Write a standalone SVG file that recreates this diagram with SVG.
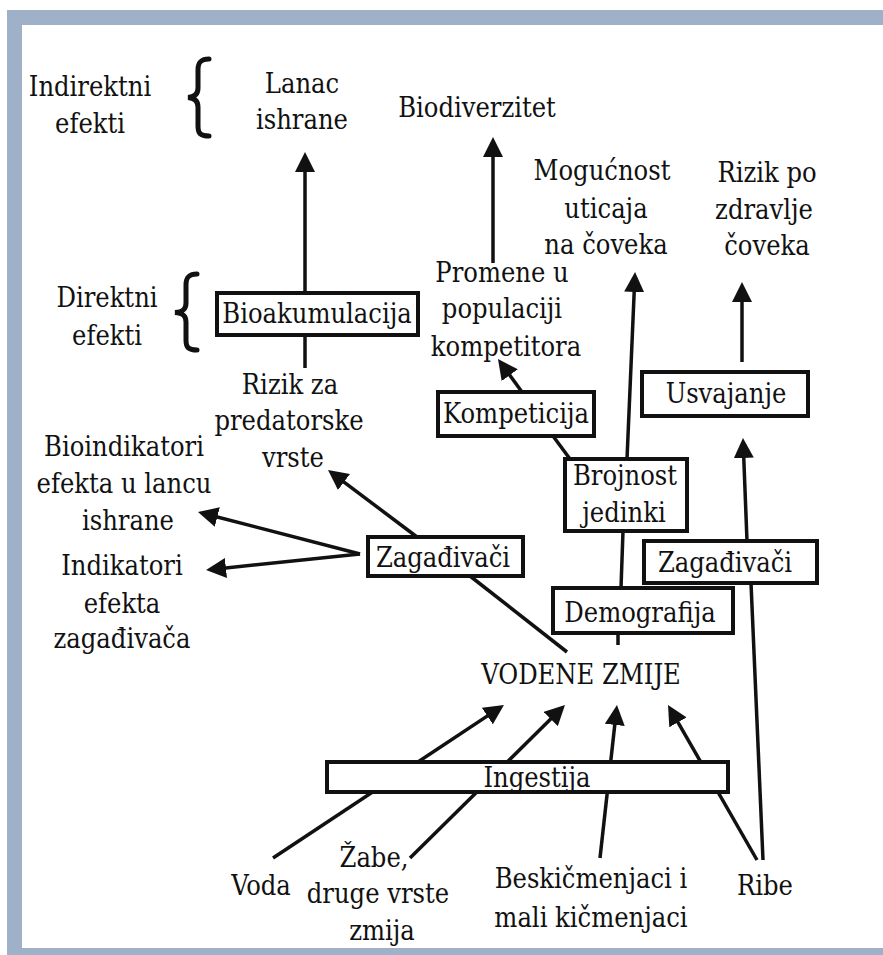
<svg xmlns="http://www.w3.org/2000/svg" width="883" height="955" viewBox="0 0 883 955">
<defs>
<marker id="ah" viewBox="0 0 20 20" markerWidth="20" markerHeight="20" refX="12" refY="10" orient="auto" markerUnits="userSpaceOnUse">
<path d="M0,0 L20,10 L0,20 z" fill="#111"/>
</marker>
</defs>
<style>
text{font-family:"DejaVu Serif Condensed","DejaVu Serif",serif;font-stretch:condensed;font-size:27px;fill:#111;text-anchor:middle}
.box{fill:#fff;stroke:#111;stroke-width:4}
.ln{stroke:#111;stroke-width:3.5;fill:none}
.ar{stroke:#111;stroke-width:3.5;fill:none;marker-end:url(#ah)}
.brace{stroke:#111;stroke-width:5;fill:none;stroke-linecap:round}
.frame{fill:#9fb1c9}
</style>
<rect x="0" y="0" width="883" height="955" fill="#fff"/>
<g id="frame">
<rect class="frame" x="7" y="10" width="876" height="15"/>
<rect class="frame" x="7" y="10" width="15" height="945"/>
<rect class="frame" x="7" y="948" width="876" height="7"/>
</g>
<g id="connectors">
<line class="ar" x1="305" y1="293" x2="305" y2="160"/>
<line class="ln" x1="305" y1="335" x2="305" y2="368"/>
<line class="ar" x1="493" y1="263" x2="493" y2="145"/>
<line class="ar" x1="627" y1="459" x2="634.7" y2="280"/>
<line class="ar" x1="742" y1="362" x2="742" y2="290"/>
<line class="ar" x1="747" y1="541" x2="743.3" y2="446"/>
<line class="ar" x1="522" y1="392" x2="502.7" y2="365.5"/>
<line class="ar" x1="417" y1="537" x2="334.4" y2="474.8"/>
<line class="ar" x1="360" y1="554" x2="205.7" y2="514"/>
<line class="ar" x1="360" y1="554" x2="214" y2="569.2"/>
<line class="ln" x1="470" y1="576" x2="567" y2="652"/>
<line class="ln" x1="618" y1="633" x2="618" y2="645"/>
<line class="ln" x1="621" y1="588" x2="623" y2="531"/>
<line class="ln" x1="570" y1="459" x2="553" y2="436"/>
<line class="ln" x1="763" y1="860" x2="751" y2="583"/>
<line class="ar" x1="273" y1="858" x2="497.3" y2="709.4"/>
<line class="ar" x1="410" y1="858" x2="559.3" y2="710.6"/>
<line class="ar" x1="600" y1="858" x2="616.1" y2="713"/>
<line class="ar" x1="757" y1="860" x2="672" y2="711.9"/>
</g>
<g id="indirektni-efekti">
<text x="90" y="96">Indirektni</text>
<text x="90" y="133">efekti</text>
<path class="brace" d="M209,59 C200,59 198,63 198,70 L198,88 C198,94 195,97 188,97.5 C195,98 198,101 198,107 L198,126 C198,133 200,136 209,136"/>
</g>
<g id="direktni-efekti">
<text x="107" y="307">Direktni</text>
<text x="107" y="345">efekti</text>
<path class="brace" d="M197,274 C188,274 186,278 186,285 L186,303 C186,309 183,312 175,312.5 C183,313 186,316 186,322 L186,340 C186,347 188,350 197,350"/>
</g>
<g id="lanac-ishrane">
<text x="302" y="93">Lanac</text>
<text x="302" y="129">ishrane</text>
</g>
<g id="biodiverzitet">
<text x="477" y="117">Biodiverzitet</text>
</g>
<g id="mogucnost">
<text x="602" y="180">Mogućnost</text>
<text x="606" y="218">uticaja</text>
<text x="606" y="254">na čoveka</text>
</g>
<g id="rizik-zdravlje">
<text x="767" y="182">Rizik po</text>
<text x="764" y="219">zdravlje</text>
<text x="767" y="255">čoveka</text>
</g>
<g id="bioakumulacija">
<rect class="box" x="217" y="293" width="201" height="42"/>
<text x="317" y="323">Bioakumulacija</text>
</g>
<g id="promene">
<text x="502" y="282">Promene u</text>
<text x="502" y="318">populaciji</text>
<text x="506" y="356">kompetitora</text>
</g>
<g id="rizik-predatori">
<text x="290" y="394">Rizik za</text>
<text x="289" y="430">predatorske</text>
<text x="293" y="467">vrste</text>
</g>
<g id="kompeticija">
<rect class="box" x="438" y="392" width="156" height="44"/>
<text x="516" y="423">Kompeticija</text>
</g>
<g id="usvajanje">
<rect class="box" x="642" y="372" width="166" height="44"/>
<text x="726" y="403">Usvajanje</text>
</g>
<g id="brojnost">
<rect class="box" x="565" y="459" width="122" height="72"/>
<text x="625" y="485">Brojnost</text>
<text x="624" y="522">jedinki</text>
</g>
<g id="bioindikatori">
<text x="124" y="456">Bioindikatori</text>
<text x="124" y="493">efekta u lancu</text>
<text x="128" y="530">ishrane</text>
</g>
<g id="indikatori">
<text x="122" y="575">Indikatori</text>
<text x="122" y="613">efekta</text>
<text x="122" y="648">zagađivača</text>
</g>
<g id="zagadjivaci-levo">
<rect class="box" x="368" y="537" width="155" height="39"/>
<text x="443" y="567">Zagađivači</text>
</g>
<g id="zagadjivaci-desno">
<rect class="box" x="644" y="541" width="173" height="42"/>
<text x="725" y="572">Zagađivači</text>
</g>
<g id="demografija">
<rect class="box" x="553" y="588" width="180" height="45"/>
<text x="640" y="622">Demografija</text>
</g>
<g id="vodene-zmije">
<text x="581" y="684">VODENE ZMIJE</text>
</g>
<g id="ingestija">
<rect class="box" x="327" y="762" width="401" height="30"/>
<text x="537" y="787">Ingestija</text>
</g>
<g id="voda">
<text x="261" y="895">Voda</text>
</g>
<g id="zabe">
<text x="374" y="867">Žabe,</text>
<text x="378" y="903">druge vrste</text>
<text x="382" y="940">zmija</text>
</g>
<g id="beskicmenjaci">
<text x="591" y="888">Beskičmenjaci i</text>
<text x="591" y="927">mali kičmenjaci</text>
</g>
<g id="ribe">
<text x="765" y="895">Ribe</text>
</g>
</svg>
